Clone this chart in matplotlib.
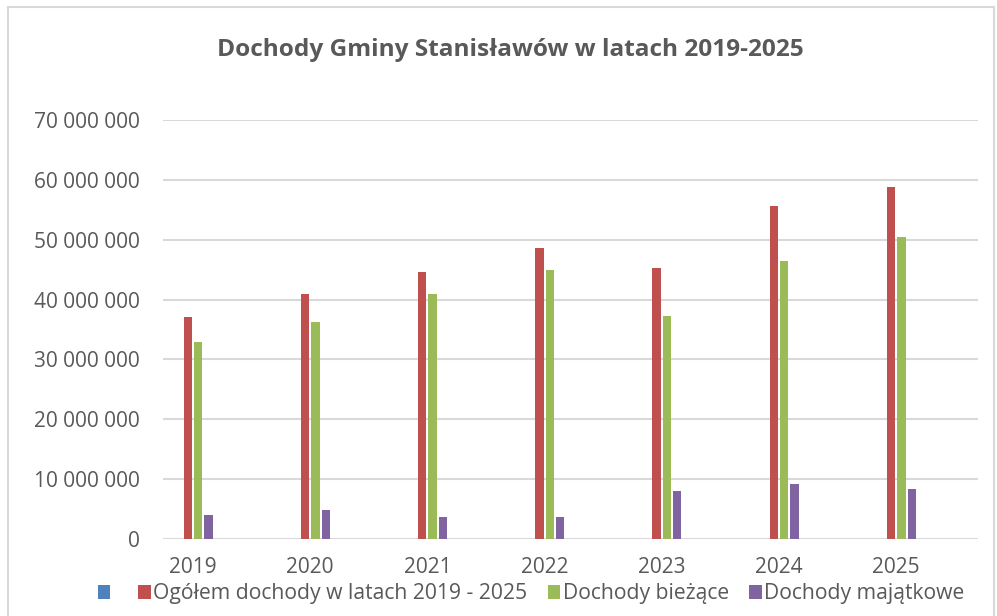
import matplotlib.pyplot as plt
from matplotlib.patches import Rectangle
import numpy as np

# dane
lata = ["2019", "2020", "2021", "2022", "2023", "2024", "2025"]
pusta_seria = [0, 0, 0, 0, 0, 0, 0]
ogolem = [37.1e6, 40.9e6, 44.6e6, 48.6e6, 45.2e6, 55.6e6, 58.8e6]
biezace = [32.9e6, 36.2e6, 41.0e6, 44.9e6, 37.3e6, 46.5e6, 50.4e6]
majatkowe = [3.96e6, 4.84e6, 3.67e6, 3.67e6, 7.97e6, 9.2e6, 8.4e6]

plt.rcParams['font.family'] = ['Open Sans', 'DejaVu Sans']
szary = "#595959"

fig = plt.figure(figsize=(9.97, 6.16), dpi=100)
W, H = 997, 616
ax = fig.add_axes([163 / W, 1 - 539 / H, (978 - 163) / W, (539 - 120) / H])

x = np.arange(len(lata))
krok = 0.088
szer = 0.071
serie = [(pusta_seria, "#4f81bd", " "),
         (ogolem, "#c0504d", "Ogółem dochody w latach 2019 - 2025"),
         (biezace, "#9bbb59", "Dochody bieżące"),
         (majatkowe, "#8064a2", "Dochody majątkowe")]
for i, (wart, kolor, nazwa) in enumerate(serie):
    ax.bar(x + (i - 1.5) * krok, wart, width=szer, color=kolor, label=nazwa, zorder=3)

ax.set_ylim(0, 70e6)
ax.set_xlim(-0.256, 6.698)
ticks = np.arange(0, 70e6 + 1, 10e6)
ax.set_yticks(ticks)
ax.set_yticklabels(["{:,.0f}".format(t).replace(",", " ") for t in ticks])
ax.set_xticks(x)
ax.set_xticklabels(lata)
ax.tick_params(axis="y", length=0, pad=16.5, labelsize=15, labelcolor=szary)
ax.tick_params(axis="x", length=0, pad=13, labelsize=15, labelcolor=szary)
ax.grid(axis="y", color="#d9d9d9", linewidth=1.5, zorder=0)
for s in ax.spines.values():
    s.set_visible(False)

fig.text(510 / W, 1 - 50 / H, "Dochody Gminy Stanisławów w latach 2019-2025",
         ha="center", va="center", fontsize=17.6, fontweight="bold", color=szary)

fig.legend(loc="center", bbox_to_anchor=(531 / W, 1 - 594 / H), ncol=4, frameon=False,
           fontsize=15.2, labelcolor=szary, handlelength=0.6, handleheight=0.6,
           handletextpad=0.12, columnspacing=0.95, borderpad=0)

# ramka wykresu
fig.add_artist(Rectangle((8 / W, -0.05), (994 - 8) / W, 1.05 - 7 / H,
                         transform=fig.transFigure, fill=False,
                         edgecolor="#d9d9d9", linewidth=1.5))

fig.savefig("out.png", dpi=100)
